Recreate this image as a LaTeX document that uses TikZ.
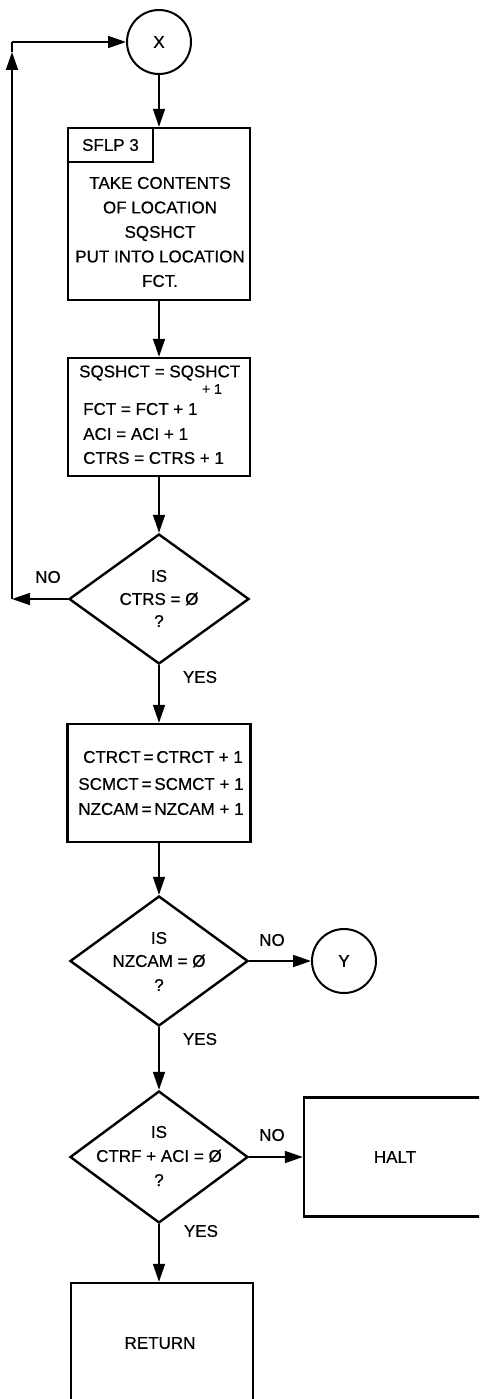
\documentclass[tikz,border=0pt]{standalone}
\usepackage{fontspec}
\setmainfont{Liberation Sans}[FakeBold=0.6]
\usetikzlibrary{arrows.meta,shapes.geometric}
\begin{document}
\begin{tikzpicture}[x=1pt,y=-1pt,
  every node/.style={font=\fontsize{17}{24.5}\selectfont, inner sep=0pt},
  boxst/.style={draw, line width=2.4pt, rectangle},
  circst/.style={draw, line width=2pt, circle, minimum size=64pt},
  diast/.style={draw, line width=2.4pt, diamond},
  conn/.style={line width=1.8pt, -{Triangle[length=18pt,width=12pt]}},
  line/.style={line width=1.8pt},
  lbl/.style={anchor=center}]
\useasboundingbox (0,0) rectangle (479,1399);
\clip (0,0) rectangle (479,1399);
% connector X
\node[circst] (X) at (159,42) {X};
% box 1
\node[boxst, minimum width=182pt, minimum height=172pt] (b1) at (159,214) {};
\node[boxst, anchor=north west, minimum width=85pt, minimum height=34pt] (sf) at (b1.north west) {SFLP 3};
\node[align=center] (t1) at (160,232) {TAKE CONTENTS\\OF LOCATION\\SQSHCT\\PUT INTO LOCATION\\FCT.};
% box 2
\node[boxst, minimum width=182pt, minimum height=118pt] (b2) at (159,417) {};
\node[anchor=west] (t2a) at (79,373) {SQSHCT = SQSHCT};
\node (t2b) at (212,389) {\fontsize{14}{15}\selectfont + 1};
\node[anchor=west] (t2c) at (83,409) {FCT = FCT + 1};
\node[anchor=west] (t2d) at (83,434) {ACI = ACI + 1};
\node[anchor=west] (t2e) at (83,458) {CTRS = CTRS + 1};
% diamond 1
\node[diast, minimum width=180pt, minimum height=130pt] (d1) at (159,599) {};
\node (d1a) at (159,576) {IS};
\node (d1b) at (159,599) {CTRS = Ø};
\node (d1c) at (159,621) {?};
\node[lbl] (no1) at (48,577) {NO};
\node[lbl] (yes1) at (200,677) {YES};
% box 3
\node[boxst, minimum width=183pt, minimum height=118pt] (b3) at (159,783) {};
\node (t3a) at (163,757) {CTRCT\,=\,CTRCT + 1};
\node (t3b) at (161,784) {SCMCT\,=\,SCMCT + 1};
\node (t3c) at (161,809) {NZCAM\,=\,NZCAM + 1};
% diamond 2
\node[diast, minimum width=178pt, minimum height=130pt] (d2) at (159,961) {};
\node (d2a) at (159,938) {IS};
\node (d2b) at (159,961) {NZCAM = Ø};
\node (d2c) at (159,985) {?};
\node[lbl] (no2) at (272,940) {NO};
\node[circst] (Y) at (344,961) {Y};
\node[lbl] (yes2) at (200,1039) {YES};
% diamond 3
\node[diast, minimum width=178pt, minimum height=132pt] (d3) at (159,1157) {};
\node (d3a) at (159,1132) {IS};
\node (d3b) at (159,1156) {CTRF + ACI = Ø};
\node (d3c) at (159,1180) {?};
\node[lbl] (no3) at (272,1135) {NO};
\node[boxst, minimum width=190pt, minimum height=119pt] (halt) at (399,1157) {};
\node (htxt) at (395,1157) {HALT};
\node[lbl] (yes3) at (201,1231) {YES};
\node[boxst, minimum width=182pt, minimum height=130pt] (ret) at (162,1348) {};
\node (rtxt) at (160,1343) {RETURN};
% connectors
\coordinate (lb) at (12,599);
\coordinate (lm) at (12,52);
\coordinate (lt) at (12,42);
\draw[conn] (X.south) -- (b1.north);
\draw[conn] (b1.south) -- (b2.north);
\draw[conn] (b2.south) -- (d1.north);
\draw[conn] (d1.west) -- (lb);
\draw[conn] (lb) -- (lm);
\draw[line] (lm) -- (lt);
\draw[conn] (lt) -- (X.west);
\draw[conn] (d1.south) -- (b3.north);
\draw[conn] (b3.south) -- (d2.north);
\draw[conn] (d2.east) -- (Y.west);
\draw[conn] (d2.south) -- (d3.north);
\draw[conn] (d3.east) -- (halt.west);
\draw[conn] (d3.south) -- (ret.north -| d3.south);
\end{tikzpicture}
\end{document}
